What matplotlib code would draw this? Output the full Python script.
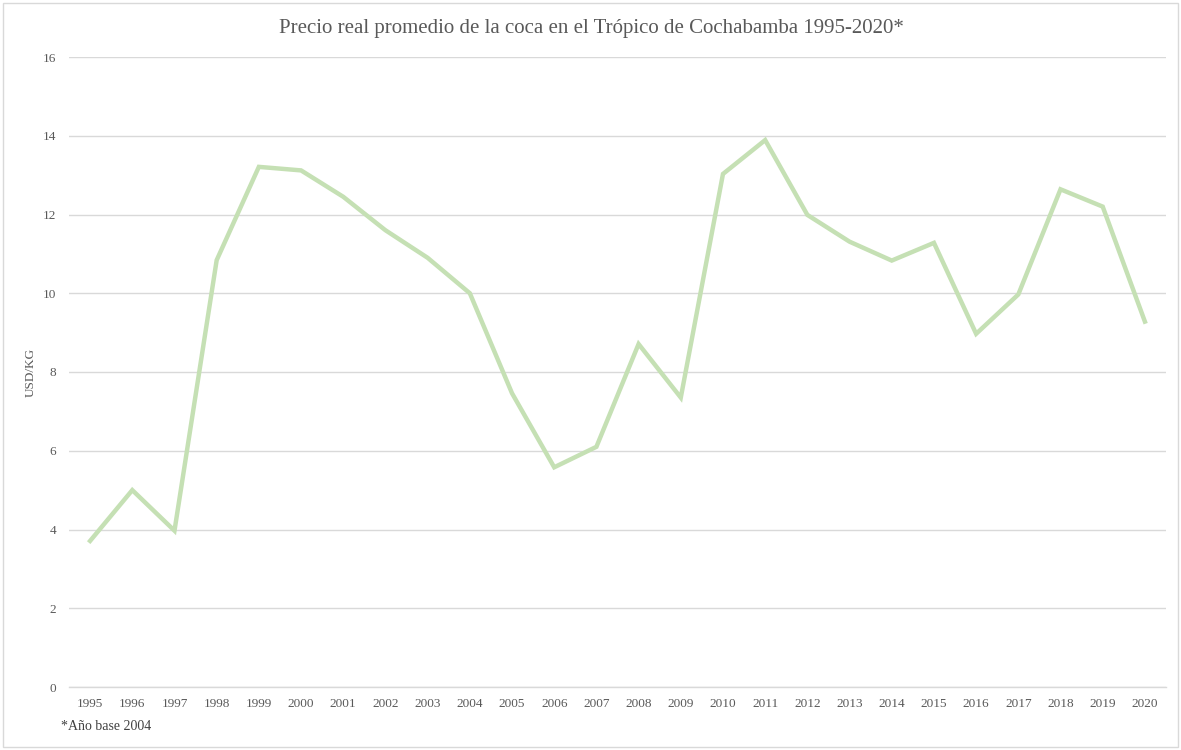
import matplotlib
matplotlib.use("Agg")
import matplotlib.pyplot as plt
from matplotlib.patches import Rectangle

years = [str(y) for y in range(1995, 2021)]
prices = [3.71, 5.00, 3.97, 10.84, 13.21, 13.12, 12.45, 11.60, 10.90, 10.00,
          7.46, 5.58, 6.10, 8.71, 7.35, 13.03, 13.89, 11.99, 11.31, 10.83,
          11.28, 8.97, 9.97, 12.64, 12.20, 9.28]
yticks = [0, 2, 4, 6, 8, 10, 12, 14, 16]

title = "Precio real promedio de la coca en el Trópico de Cochabamba 1995-2020*"
ylabel = "USD/KG"
note = "*Año base 2004"


def main():
    plt.rcParams["font.family"] = ["Liberation Serif", "DejaVu Serif"]
    text_color = "#595959"

    fig = plt.figure(figsize=(11.81, 7.5), dpi=100)
    ax = fig.add_axes([69 / 1181, 1 - 687 / 750, 1097 / 1181, 630 / 750])

    x = list(range(len(years)))
    ax.plot(x, prices, color="#c5e0b4", linewidth=3.2, solid_joinstyle="miter")

    ax.set_xlim(-0.5, len(years) - 0.5)
    ax.set_ylim(0, 16)
    ax.set_yticks(yticks)
    ax.set_xticks(x)
    ax.set_xticklabels(years)
    ax.grid(axis="y", color="#d9d9d9", linewidth=1.0)
    ax.set_axisbelow(True)
    for side in ["top", "right", "left"]:
        ax.spines[side].set_visible(False)
    ax.spines["bottom"].set_color("#d9d9d9")
    ax.spines["bottom"].set_linewidth(1.0)
    ax.tick_params(axis="both", length=0, labelsize=9.5, colors=text_color)
    ax.tick_params(axis="x", pad=8)
    ax.tick_params(axis="y", pad=9)

    fig.text(31 / 1181, 1 - 372 / 750, ylabel, rotation=90, ha="center",
             va="center", fontsize=9.5, color=text_color)
    fig.text(591 / 1181, 1 - 29 / 750, title, ha="center", va="center",
             fontsize=15, color=text_color)
    fig.text(61 / 1181, 1 - 726 / 750, note, ha="left", va="center",
             fontsize=10, color="#404040")

    fig.patches.append(Rectangle((3 / 1181, 3 / 750), 1175 / 1181, 744 / 750,
                                 transform=fig.transFigure, fill=False,
                                 edgecolor="#d9d9d9", linewidth=1.0))

    fig.savefig("out.png", dpi=100)


if __name__ == "__main__":
    main()
